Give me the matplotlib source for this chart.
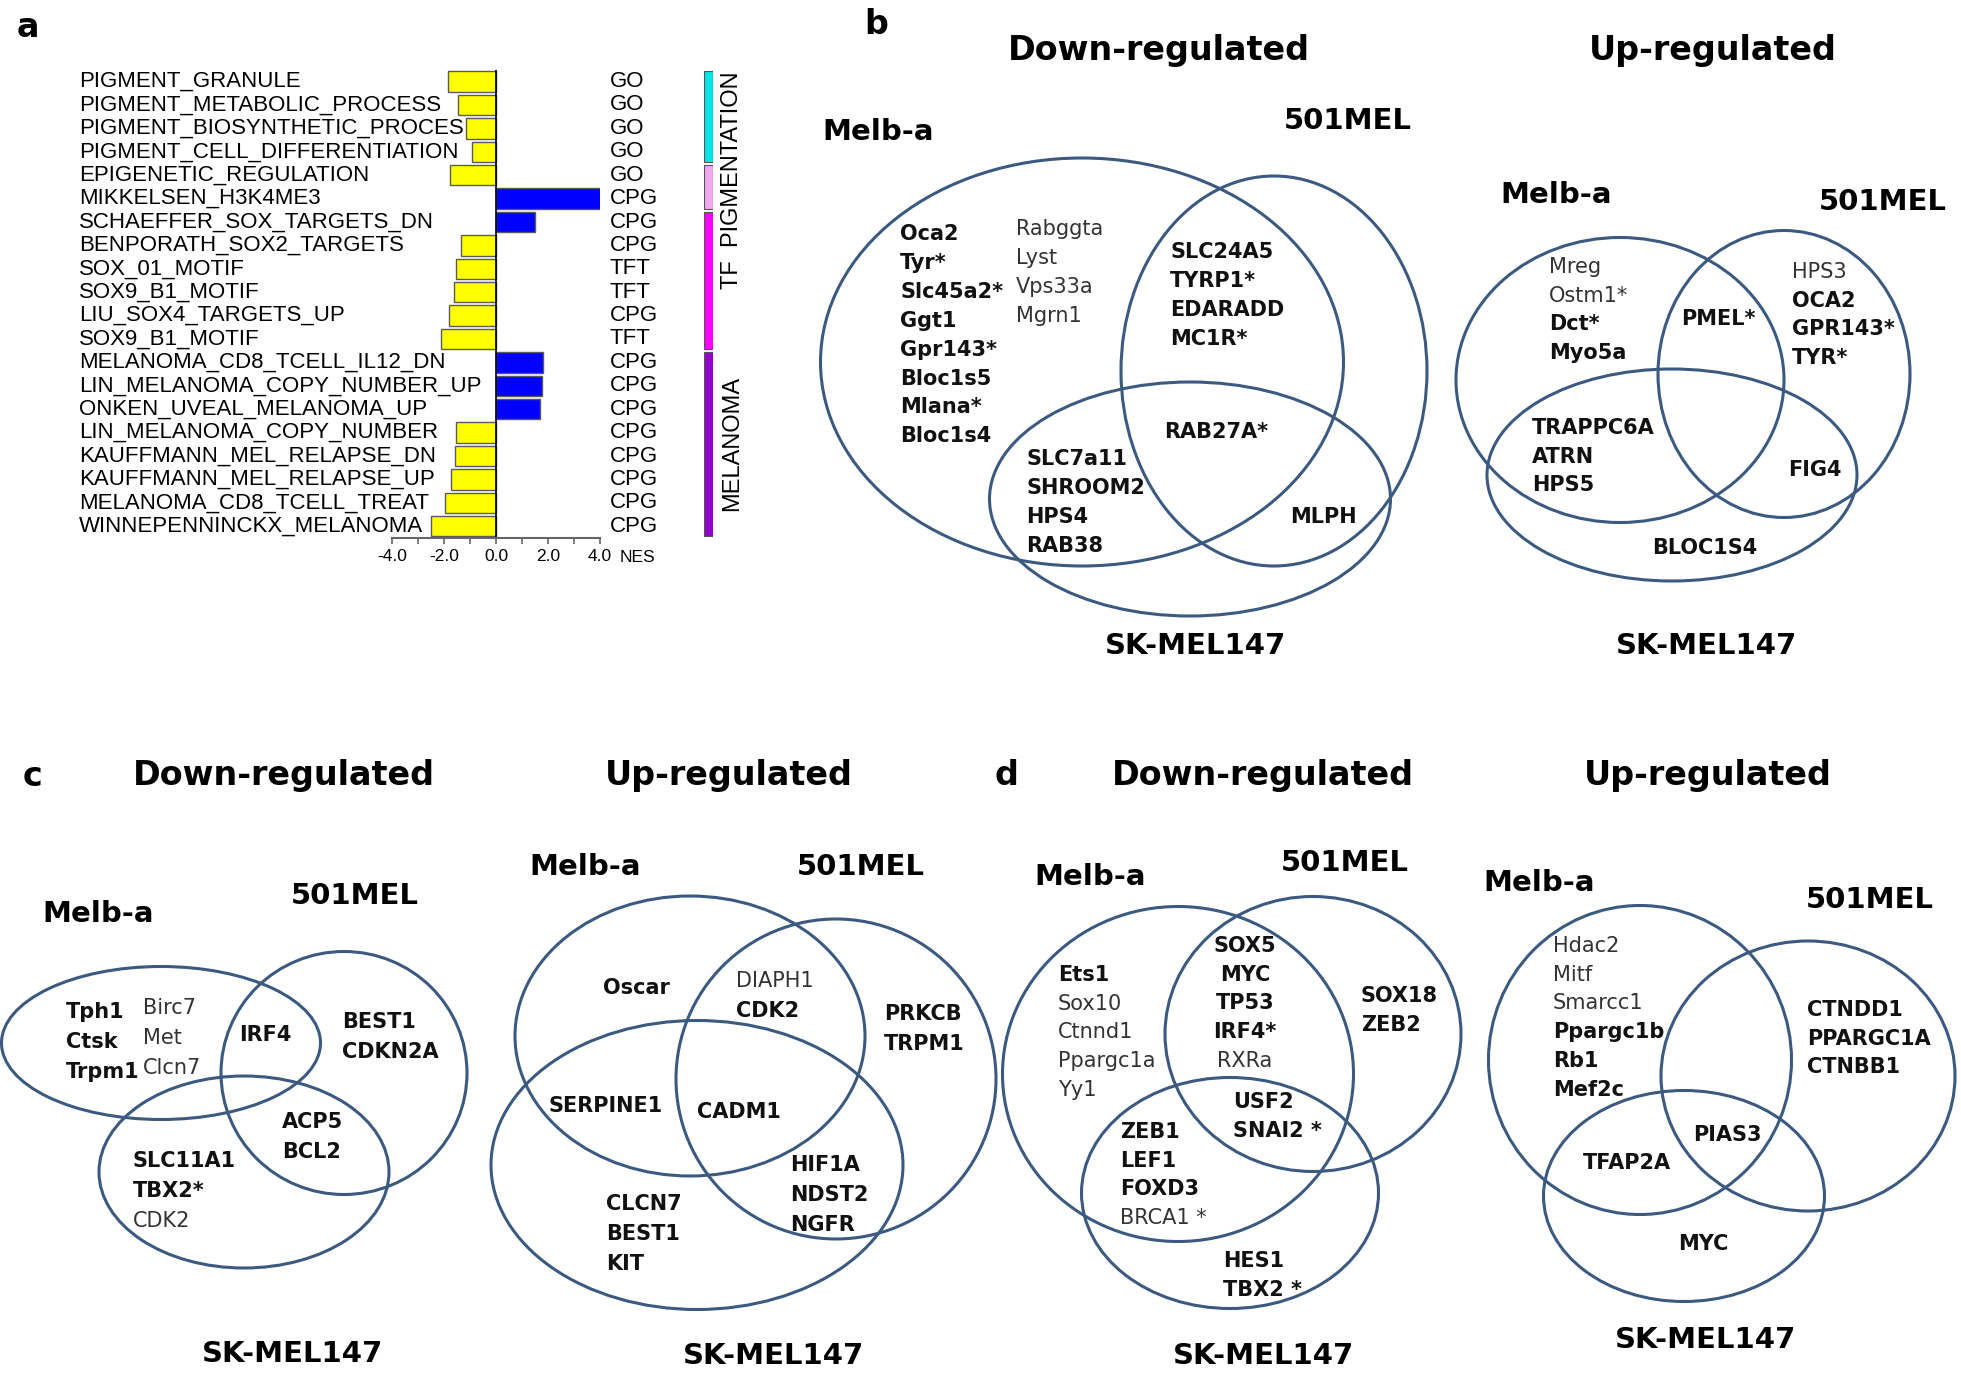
import numpy as np
import matplotlib
matplotlib.use("Agg")
import matplotlib.pyplot as plt
from matplotlib.patches import Ellipse
from matplotlib.transforms import blended_transform_factory

# ---- panel a data
gene_sets = ["PIGMENT_GRANULE", "PIGMENT_METABOLIC_PROCESS", "PIGMENT_BIOSYNTHETIC_PROCES",
             "PIGMENT_CELL_DIFFERENTIATION", "EPIGENETIC_REGULATION", "MIKKELSEN_H3K4ME3",
             "SCHAEFFER_SOX_TARGETS_DN", "BENPORATH_SOX2_TARGETS", "SOX_01_MOTIF", "SOX9_B1_MOTIF",
             "LIU_SOX4_TARGETS_UP", "SOX9_B1_MOTIF", "MELANOMA_CD8_TCELL_IL12_DN",
             "LIN_MELANOMA_COPY_NUMBER_UP", "ONKEN_UVEAL_MELANOMA_UP", "LIN_MELANOMA_COPY_NUMBER",
             "KAUFFMANN_MEL_RELAPSE_DN", "KAUFFMANN_MEL_RELAPSE_UP", "MELANOMA_CD8_TCELL_TREAT",
             "WINNEPENNINCKX_MELANOMA"]
nes = [-1.86, -1.47, -1.14, -0.94, -1.76, 4.05, 1.51, -1.33, -1.53, -1.63,
       -1.80, -2.12, 1.80, 1.76, 1.71, -1.53, -1.59, -1.75, -1.96, -2.51]
source_db = ["GO", "GO", "GO", "GO", "GO", "CPG", "CPG", "CPG", "TFT", "TFT",
             "CPG", "TFT", "CPG", "CPG", "CPG", "CPG", "CPG", "CPG", "CPG", "CPG"]
group_sizes = [4, 2, 6, 8]
group_colors = ["#00e5e5", "#f0a8f0", "#ff00ff", "#9400cc"]
nes_ticks = [-4.0, -2.0, 0.0, 2.0, 4.0]

# ---- venn data (genes per region)
b_down = {"melb_a": ["Oca2", "Tyr*", "Slc45a2*", "Ggt1", "Gpr143*", "Bloc1s5", "Mlana*", "Bloc1s4"],
          "melb_b": ["Rabggta", "Lyst", "Vps33a", "Mgrn1"],
          "melb_501": ["SLC24A5", "TYRP1*", "EDARADD", "MC1R*"],
          "all": ["RAB27A*"],
          "melb_sk": ["SLC7a11", "SHROOM2", "HPS4", "RAB38"],
          "501_sk": ["MLPH"]}
b_up = {"melb": ["Mreg", "Ostm1*", "Dct*", "Myo5a"],
        "melb_501": ["PMEL*"],
        "501": ["HPS3", "OCA2", "GPR143*", "TYR*"],
        "melb_sk": ["TRAPPC6A", "ATRN", "HPS5"],
        "501_sk": ["FIG4"],
        "sk": ["BLOC1S4"]}
c_down = {"melb_a": ["Tph1", "Ctsk", "Trpm1"],
          "melb_b": ["Birc7", "Met", "Clcn7"],
          "melb_501": ["IRF4"],
          "501": ["BEST1", "CDKN2A"],
          "501_sk": ["ACP5", "BCL2"],
          "sk": ["SLC11A1", "TBX2*", "CDK2"]}
c_up = {"melb": ["Oscar"],
        "melb_501": ["DIAPH1", "CDK2"],
        "501": ["PRKCB", "TRPM1"],
        "melb_sk": ["SERPINE1"],
        "all": ["CADM1"],
        "501_sk": ["HIF1A", "NDST2", "NGFR"],
        "sk": ["CLCN7", "BEST1", "KIT"]}
d_down = {"melb": ["Ets1", "Sox10", "Ctnnd1", "Ppargc1a", "Yy1"],
          "melb_501": ["SOX5", "MYC", "TP53", "IRF4*", "RXRa"],
          "501": ["SOX18", "ZEB2"],
          "all": ["USF2", "SNAI2 *"],
          "melb_sk": ["ZEB1", "LEF1", "FOXD3", "BRCA1 *"],
          "sk": ["HES1", "TBX2 *"]}
d_up = {"melb": ["Hdac2", "Mitf", "Smarcc1", "Ppargc1b", "Rb1", "Mef2c"],
        "501": ["CTNDD1", "PPARGC1A", "CTNBB1"],
        "all": ["PIAS3"],
        "melb_sk": ["TFAP2A"],
        "sk": ["MYC"]}
set_names = ["Melb-a", "501MEL", "SK-MEL147"]

# ---- layout (pixel coords of the 1961x1382 canvas)
W, H = 1961, 1382
panels = [
    dict(genes=b_down, title="Down-regulated", title_xy=(1159, 50),
         ell=[(1082, 362, 523, 408), (1274, 371, 306, 390), (1190, 499, 401, 234)],
         names_xy=[(878, 132), (1348, 121), (1196, 646)],
         pos={"melb_a": (900, 234), "melb_b": (1016, 229), "melb_501": (1170, 252),
              "all": (1164, 432), "melb_sk": (1026, 459), "501_sk": (1290, 517)},
         step=28.9, plain={"Rabggta", "Lyst", "Vps33a", "Mgrn1"}),
    dict(genes=b_up, title="Up-regulated", title_xy=(1713, 50),
         ell=[(1620, 380, 328, 285), (1784, 374, 252, 287), (1672, 475, 370, 212)],
         names_xy=[(1556, 195), (1883, 202), (1707, 646)],
         pos={"melb": (1549, 267), "melb_501": (1681, 319), "501": (1792, 272),
              "melb_sk": (1532, 428), "501_sk": (1788, 470), "sk": (1652, 548)},
         step=28.7, plain={"Mreg", "Ostm1*", "HPS3"}),
    dict(genes=c_down, title="Down-regulated", title_xy=(284, 775),
         ell=[(161, 1043, 319, 153), (344, 1073, 246, 243), (244, 1172, 290, 192)],
         names_xy=[(98, 914), (355, 896), (293, 1354)],
         pos={"melb_a": (66, 1012), "melb_b": (143, 1008), "melb_501": (239, 1035),
              "501": (342, 1022), "501_sk": (282, 1122), "sk": (133, 1161)},
         step=30.2, plain={"Birc7", "Met", "Clcn7", "CDK2"}),
    dict(genes=c_up, title="Up-regulated", title_xy=(729, 775),
         ell=[(690, 1036, 350, 280), (836, 1079, 320, 320), (697, 1165, 412, 289)],
         names_xy=[(585, 867), (861, 867), (774, 1356)],
         pos={"melb": (603, 988), "melb_501": (736, 981), "501": (884, 1014),
              "melb_sk": (548, 1106), "all": (697, 1112), "501_sk": (790, 1165),
              "sk": (606, 1204)},
         step=30, plain={"DIAPH1"}),
    dict(genes=d_down, title="Down-regulated", title_xy=(1263, 775),
         ell=[(1178, 1074, 351, 335), (1313, 1034, 296, 275), (1230, 1193, 297, 231)],
         names_xy=[(1090, 877), (1345, 863), (1264, 1356)],
         pos={"melb": (1058, 975), "melb_501": (1245, 946), "501": (1361, 996),
              "all": (1233, 1102), "melb_sk": (1120, 1132), "sk": (1223, 1261)},
         step=28.7, plain={"Sox10", "Ctnnd1", "Ppargc1a", "Yy1", "RXRa", "BRCA1 *"},
         centered={"melb_501"}),
    dict(genes=d_up, title="Up-regulated", title_xy=(1708, 775),
         ell=[(1640, 1060, 303, 309), (1808, 1076, 294, 270), (1684, 1196, 281, 211)],
         names_xy=[(1539, 883), (1870, 900), (1706, 1340)],
         pos={"melb": (1553, 946), "501": (1807, 1010), "all": (1693, 1135),
              "melb_sk": (1583, 1163), "sk": (1678, 1244)},
         step=28.7, plain={"Hdac2", "Mitf", "Smarcc1"}),
]
panel_letters = [("a", 28, 27), ("b", 876, 24), ("c", 33, 776), ("d", 1006, 775)]
line_col = "#3c5a80"

fig = plt.figure(figsize=(W / 100, H / 100), dpi=100)


def fig_rect(x0, y0, x1, y1):
    return [x0 / W, 1 - y1 / H, (x1 - x0) / W, (y1 - y0) / H]


ov = fig.add_axes([0, 0, 1, 1])
ov.set_xlim(0, W)
ov.set_ylim(H, 0)
ov.axis("off")

for letter, x, y in panel_letters:
    ov.text(x, y, letter, fontsize=24, fontweight="bold", ha="center", va="center")

for p in panels:
    for (cx, cy, w, h) in p["ell"]:
        ov.add_patch(Ellipse((cx, cy), w, h, fill=False, edgecolor=line_col, lw=2.2))
    ov.text(p["title_xy"][0], p["title_xy"][1], p["title"], fontsize=24,
            fontweight="bold", ha="center", va="center")
    for name, (x, y) in zip(set_names, p["names_xy"]):
        ov.text(x, y, name, fontsize=21, fontweight="bold", ha="center", va="center")
    for region, genes in p["genes"].items():
        x0, y0 = p["pos"][region]
        ha = "center" if region in p.get("centered", set()) else "left"
        for k, g in enumerate(genes):
            plain = g in p["plain"]
            ov.text(x0, y0 + k * p["step"], g, fontsize=15,
                    fontweight="normal" if plain else "bold",
                    color="#333333" if plain else "#111111", ha=ha, va="center")

# ---- panel a bar chart
row0, pitch = 81.6, 23.4
n = len(gene_sets)
top = row0 - pitch / 2
bottom = row0 + pitch * (n - 0.5)
rows = np.arange(n)

axa = fig.add_axes(fig_rect(392, top, 600, bottom))
axa.patch.set_alpha(0)
bar_cols = ["#0000ff" if v > 0 else "#ffff00" for v in nes]
axa.barh(rows, nes, height=0.88, color=bar_cols, edgecolor="#5a5a5a", linewidth=1)
axa.axvline(0, color="black", lw=1.2)
axa.set_xlim(-4, 4)
axa.set_ylim(n - 0.5, -0.5)
for s in ["top", "right", "left"]:
    axa.spines[s].set_visible(False)
axa.spines["bottom"].set_color("#666666")
axa.spines["bottom"].set_linewidth(1.5)
axa.set_yticks([])
axa.set_xticks(nes_ticks)
axa.set_xticklabels(["%.1f" % t for t in nes_ticks], family="Liberation Sans", fontsize=12.5)
axa.set_xticks([-3, -1, 1, 3], minor=True)
axa.tick_params(axis="x", which="both", direction="out", length=4, width=1.2,
                color="#666666", pad=4)

tr = blended_transform_factory(fig.transFigure, axa.transData)
for i, (name, db) in enumerate(zip(gene_sets, source_db)):
    axa.text(79 / W, i, name, transform=tr, ha="left", va="center",
             fontsize=16, family="Liberation Sans")
    axa.text(610 / W, i, db, transform=tr, ha="left", va="center",
             fontsize=16, family="Liberation Sans")
ov.text(620, 557, "NES", fontsize=12.5, family="Liberation Sans", ha="left", va="center")

axg = fig.add_axes(fig_rect(704, top, 713, bottom))
axg.axis("off")
axg.set_xlim(0, 1)
axg.set_ylim(n - 0.5, -0.5)
start = 0
for size, col in zip(group_sizes, group_colors):
    axg.bar(0.5, size - 0.12, bottom=start - 0.5 + 0.06, width=1, color=col,
            edgecolor="#555555", linewidth=0.8)
    start += size
trg = blended_transform_factory(fig.transFigure, axg.transData)
axg.text(732 / W, 4.2, "TF  PIGMENTATION", transform=trg, rotation=90, ha="center",
         va="center", fontsize=17, family="Liberation Sans")
axg.text(732 / W, 15.45, "MELANOMA", transform=trg, rotation=90, ha="center",
         va="center", fontsize=17, family="Liberation Sans")

fig.savefig("out.png", dpi=100)
